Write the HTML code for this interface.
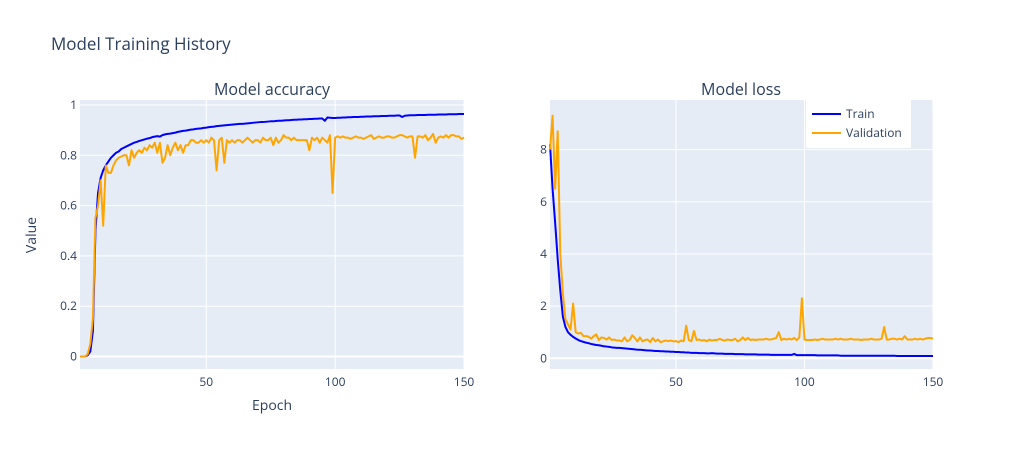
<!DOCTYPE html>
<html><head><meta charset="utf-8"><style>
body{margin:0;background:#fff}
text{font-family:"Open Sans","Liberation Sans",sans-serif;fill:#2a3f5f}
</style></head><body>
<svg id="chart" width="1013" height="450" xmlns="http://www.w3.org/2000/svg">
<text x="51" y="50" font-size="17">Model Training History</text>
<rect x="80" y="100" width="384" height="269" fill="#e5ecf6"/>
<rect x="550" y="100" width="383" height="269" fill="#e5ecf6"/>
<g id="grid"></g>
<g id="marks"></g>
<text x="272" y="95" font-size="16" text-anchor="middle">Model accuracy</text>
<text x="741" y="95" font-size="16" text-anchor="middle">Model loss</text>
<text x="272" y="410" font-size="14" text-anchor="middle">Epoch</text>
<text x="36" y="235" font-size="14" text-anchor="middle" transform="rotate(-90 36 235)">Value</text>
<g>
<rect x="806" y="100" width="105" height="48" fill="#fff"/>
<line x1="812" y1="114" x2="841" y2="114" stroke="#0000ff" stroke-width="2"/>
<text x="846" y="118" font-size="12">Train</text>
<line x1="812" y1="133" x2="841" y2="133" stroke="#ffa500" stroke-width="2"/>
<text x="846" y="137" font-size="12">Validation</text>
</g>
</svg>
<script>
const trainAcc=[0,0,0,0.005,0.02,0.1,0.5,0.65,0.71,0.74,
0.76,0.775,0.79,0.8,0.81,0.815,0.825,0.83,0.835,0.84,
0.845,0.85,0.853,0.857,0.86,0.863,0.866,0.868,0.872,0.874,
0.876,0.874,0.88,0.883,0.885,0.886,0.888,0.89,0.893,0.895,
0.897,0.898,0.9,0.902,0.903,0.905,0.906,0.907,0.909,0.91,
0.912,0.913,0.914,0.916,0.917,0.918,0.919,0.92,0.921,0.922,
0.923,0.924,0.925,0.925,0.926,0.927,0.928,0.929,0.93,0.931,
0.932,0.932,0.933,0.934,0.935,0.935,0.936,0.937,0.937,0.938,
0.939,0.939,0.94,0.941,0.941,0.942,0.942,0.943,0.943,0.944,
0.944,0.945,0.945,0.946,0.946,0.937,0.95,0.949,0.948,0.948,
0.949,0.949,0.95,0.95,0.951,0.951,0.952,0.952,0.952,0.953,
0.953,0.954,0.954,0.954,0.955,0.955,0.955,0.956,0.956,0.956,
0.957,0.957,0.957,0.958,0.958,0.952,0.957,0.958,0.959,0.959,
0.959,0.96,0.96,0.96,0.96,0.961,0.961,0.961,0.961,0.962,
0.962,0.962,0.962,0.963,0.963,0.963,0.963,0.964,0.964,0.964];
const valAcc=[0,0,0,0.01,0.05,0.15,0.55,0.6,0.7,0.52,
0.76,0.73,0.73,0.76,0.78,0.79,0.795,0.8,0.8,0.76,
0.82,0.79,0.81,0.82,0.81,0.83,0.82,0.84,0.83,0.85,
0.81,0.85,0.77,0.79,0.84,0.8,0.83,0.85,0.82,0.84,
0.81,0.84,0.84,0.86,0.86,0.85,0.85,0.86,0.85,0.86,
0.85,0.87,0.86,0.74,0.86,0.87,0.77,0.86,0.85,0.86,
0.85,0.86,0.86,0.85,0.86,0.87,0.86,0.85,0.86,0.86,
0.85,0.87,0.86,0.86,0.87,0.84,0.87,0.85,0.86,0.88,
0.87,0.87,0.86,0.87,0.86,0.86,0.86,0.86,0.86,0.82,
0.87,0.86,0.87,0.85,0.87,0.86,0.85,0.88,0.65,0.87,
0.875,0.87,0.875,0.87,0.87,0.865,0.87,0.875,0.87,0.87,
0.865,0.87,0.875,0.88,0.865,0.87,0.875,0.87,0.87,0.875,
0.875,0.87,0.87,0.875,0.88,0.88,0.875,0.87,0.875,0.875,
0.79,0.875,0.875,0.87,0.88,0.86,0.87,0.885,0.85,0.87,
0.875,0.87,0.88,0.87,0.88,0.88,0.875,0.875,0.865,0.87];
const trainLoss=[8.2,6.5,5.2,3.8,2.6,1.6,1.2,1.0,0.9,0.82,
0.76,0.7,0.66,0.63,0.6,0.58,0.55,0.53,0.51,0.5,
0.48,0.46,0.45,0.44,0.42,0.41,0.4,0.4,0.39,0.38,
0.37,0.36,0.35,0.34,0.33,0.33,0.32,0.31,0.3,0.3,
0.29,0.28,0.28,0.27,0.27,0.26,0.26,0.25,0.25,0.24,
0.24,0.23,0.23,0.22,0.22,0.21,0.21,0.21,0.2,0.2,
0.2,0.19,0.19,0.2,0.19,0.18,0.18,0.18,0.17,0.17,
0.17,0.17,0.16,0.16,0.16,0.16,0.15,0.15,0.15,0.15,
0.15,0.14,0.14,0.14,0.14,0.14,0.13,0.13,0.13,0.13,
0.13,0.13,0.13,0.13,0.13,0.17,0.12,0.12,0.12,0.12,
0.12,0.12,0.12,0.12,0.11,0.11,0.11,0.11,0.11,0.11,
0.11,0.11,0.11,0.1,0.1,0.1,0.1,0.1,0.1,0.1,
0.1,0.1,0.1,0.1,0.1,0.1,0.1,0.1,0.1,0.1,
0.1,0.1,0.1,0.1,0.1,0.09,0.09,0.09,0.09,0.09,
0.09,0.09,0.09,0.09,0.09,0.09,0.09,0.09,0.09,0.09];
const valLoss=[8.0,9.3,6.5,8.7,4.0,2.5,1.5,1.3,1.1,2.1,
1.0,0.95,0.98,0.85,0.85,0.83,0.75,0.85,0.92,0.7,
0.8,0.78,0.72,0.8,0.7,0.72,0.68,0.68,0.65,0.8,
0.65,0.7,0.88,0.78,0.65,0.8,0.65,0.7,0.72,0.62,
0.78,0.65,0.72,0.62,0.65,0.68,0.66,0.68,0.65,0.66,
0.62,0.68,0.65,1.25,0.7,0.65,1.05,0.7,0.72,0.68,
0.7,0.65,0.72,0.68,0.7,0.7,0.75,0.7,0.68,0.72,
0.7,0.7,0.75,0.65,0.7,0.8,0.7,0.78,0.7,0.72,
0.7,0.72,0.72,0.72,0.75,0.72,0.72,0.75,0.78,1.0,
0.7,0.75,0.72,0.75,0.72,0.78,0.7,0.8,2.3,0.72,
0.7,0.7,0.7,0.72,0.7,0.72,0.75,0.72,0.72,0.72,
0.72,0.75,0.72,0.75,0.72,0.72,0.72,0.75,0.72,0.72,
0.72,0.7,0.72,0.72,0.72,0.75,0.72,0.72,0.72,0.75,
1.2,0.72,0.72,0.75,0.75,0.72,0.75,0.72,0.85,0.72,
0.72,0.72,0.75,0.72,0.75,0.72,0.75,0.78,0.78,0.75];
const xTicks=[50,100,150];
const accTicks=[0,0.2,0.4,0.6,0.8,1];
const accTickLabels=["0","0.2","0.4","0.6","0.8","1"];
const lossTicks=[0,2,4,6,8];
const lossTickLabels=["0","2","4","6","8"];

const NS="http://www.w3.org/2000/svg";
const grid=document.getElementById('grid'), marks=document.getElementById('marks');
function mk(tag,attrs,parent){const e=document.createElementNS(NS,tag);for(const k in attrs)e.setAttribute(k,attrs[k]);parent.appendChild(e);return e;}
function axes(x0,x1,y0,y1,ymin,ymax){
  return {x:v=>x0+(v-1)/(150-1)*(x1-x0), y:v=>y1-(v-ymin)/(ymax-ymin)*(y1-y0), x0,x1,y0,y1};
}
const A=axes(80,464,100,369,-0.0497,1.0197);
const L=axes(550,933,100,369,-0.41,9.9);
function drawPanel(ax,yt,ytl,name){
  xTicks.forEach(t=>{
    const l=mk('line',{x1:ax.x(t),x2:ax.x(t),y1:ax.y0,y2:ax.y1,stroke:'#fff','stroke-width':1},grid);
    
    
    const tx=mk('text',{x:ax.x(t),y:ax.y1+17,'font-size':12,'text-anchor':'middle'},grid);
    tx.textContent=t;
    
    
  });
  yt.forEach((t,i)=>{
    const l=mk('line',{x1:ax.x0,x2:ax.x1,y1:ax.y(t),y2:ax.y(t),stroke:'#fff','stroke-width':t===0?2:1},grid);
    
    
    const tx=mk('text',{x:ax.x0-3,y:ax.y(t)+4,'font-size':12,'text-anchor':'end'},grid);
    tx.textContent=ytl[i];
    
    
  });
}
drawPanel(A,accTicks,accTickLabels,'accuracy');
drawPanel(L,lossTicks,lossTickLabels,'loss');
function line(ax,arr,color,name){
  const d=arr.map((v,i)=>(i?'L':'M')+ax.x(i+1).toFixed(2)+','+ax.y(v).toFixed(2)).join('');
  const p=mk('path',{d:d,fill:'none',stroke:color,'stroke-width':2,'stroke-linejoin':'round'},marks);
  
  
}
line(A,trainAcc,'#0000ff','train-accuracy-line');
line(A,valAcc,'#ffa500','validation-accuracy-line');
line(L,trainLoss,'#0000ff','train-loss-line');
line(L,valLoss,'#ffa500','validation-loss-line');
</script>
</body></html>
